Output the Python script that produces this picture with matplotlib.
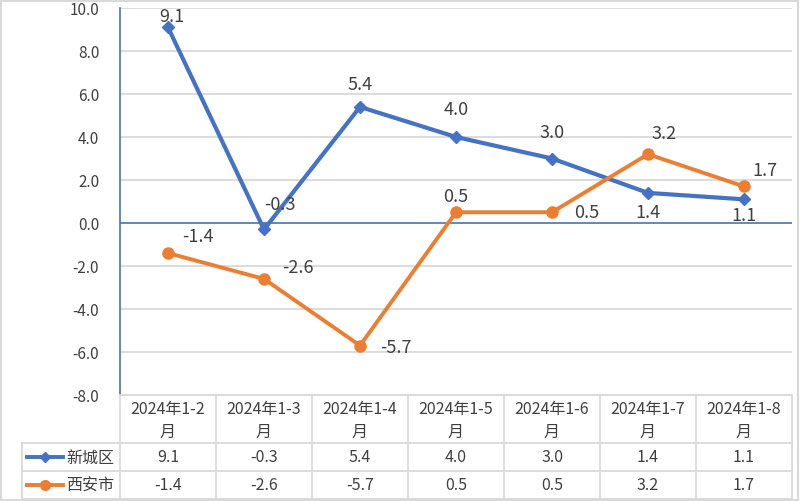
import matplotlib
matplotlib.use("Agg")
import matplotlib.pyplot as plt
from matplotlib.lines import Line2D
from matplotlib.patches import Rectangle

plt.rcParams['font.family'] = ['Noto Sans CJK SC', 'DejaVu Sans']

categories = ["2024年1-2\n月", "2024年1-3\n月", "2024年1-4\n月", "2024年1-5\n月",
              "2024年1-6\n月", "2024年1-7\n月", "2024年1-8\n月"]
series_names = ["新城区", "西安市"]
xincheng = [9.1, -0.3, 5.4, 4.0, 3.0, 1.4, 1.1]
xian = [-1.4, -2.6, -5.7, 0.5, 0.5, 3.2, 1.7]
yticks = [-8, -6, -4, -2, 0, 2, 4, 6, 8, 10]

BLUE = "#4472C4"
ORANGE = "#ED7D31"
TXT = "#404040"
GRID = "#D9D9D9"

W, H = 800, 502
fig = plt.figure(figsize=(8, 5.02), dpi=100)

def fx(px):
    return px / W

def fy(py):
    return 1 - py / H

left, right, top, bottom = 120, 792, 9, 396
ax = fig.add_axes([fx(left), fy(bottom), fx(right - left), (bottom - top) / H])
n = len(categories)
x = list(range(n))
ax.set_xlim(-0.5, n - 0.5)
ax.set_ylim(-8, 10)
for s in ["top", "right", "bottom"]:
    ax.spines[s].set_visible(False)
ax.spines["left"].set_color(BLUE)
ax.spines["left"].set_linewidth(1.2)
ax.set_yticks(yticks)
ax.set_yticklabels([f"{v:.1f}" for v in yticks], fontsize=11, color=TXT)
ax.tick_params(axis='y', length=0, pad=15)
ax.set_xticks([])
for v in yticks:
    if v == 0:
        ax.axhline(0, color=BLUE, lw=1.2, zorder=1)
    elif v != -8:
        ax.axhline(v, color=GRID, lw=1.3, zorder=0)

ax.plot(x, xincheng, color=BLUE, lw=3.0, marker="D", markersize=6, zorder=3, clip_on=False)
ax.plot(x, xian, color=ORANGE, lw=2.8, marker="o", markersize=8, zorder=3, clip_on=False)

blue_off = [(4, 11), (16, 25), (0, 23), (0, 28), (0, 26), (0, -19), (0, -16)]
orange_off = [(30, 17), (34, 12), (36, -1), (0, 16), (35, 0), (16, 21), (21, 16)]
for i, v in enumerate(xincheng):
    ax.annotate(f"{v:.1f}", (x[i], v), xytext=blue_off[i], textcoords="offset pixels",
                ha="center", va="center", fontsize=13, color=TXT, zorder=4, annotation_clip=False)
for i, v in enumerate(xian):
    ax.annotate(f"{v:.1f}", (x[i], v), xytext=orange_off[i], textcoords="offset pixels",
                ha="center", va="center", fontsize=13, color=TXT, zorder=4, annotation_clip=False)

# data table
lw_t = 1.3
def hline(y, x0, x1):
    fig.add_artist(Line2D([fx(x0), fx(x1)], [fy(y), fy(y)], color=GRID, lw=lw_t))

def vline(xp, y0, y1):
    fig.add_artist(Line2D([fx(xp), fx(xp)], [fy(y0), fy(y1)], color=GRID, lw=lw_t))

row_y = [396, 444, 472, 500]
label_left = 22
hline(row_y[0], left, right)
hline(row_y[1], label_left, right)
hline(row_y[2], label_left, right)
hline(row_y[3], label_left, right)
colw = (right - left) / n
for i in range(n + 1):
    vline(left + i * colw, row_y[0], row_y[3])
vline(label_left, row_y[1], row_y[3])

for i, c in enumerate(categories):
    fig.text(fx(left + (i + 0.5) * colw), fy((row_y[0] + row_y[1]) / 2 + 1), c,
             ha="center", va="center", fontsize=11.5, color=TXT, linespacing=1.5)

rows = [(series_names[0], xincheng, BLUE, "D", 5.5), (series_names[1], xian, ORANGE, "o", 7)]
for r, (name, vals, col, mk, ms) in enumerate(rows):
    yc = (row_y[r + 1] + row_y[r + 2]) / 2
    fig.add_artist(Line2D([fx(27), fx(63)], [fy(yc), fy(yc)], color=col, lw=2.8))
    fig.add_artist(Line2D([fx(45)], [fy(yc)], color=col, marker=mk, markersize=ms, lw=0))
    fig.text(fx(66), fy(yc), name, ha="left", va="center", fontsize=11.5, color=TXT)
    for i, v in enumerate(vals):
        fig.text(fx(left + (i + 0.5) * colw), fy(yc), f"{v:.1f}", ha="center", va="center",
                 fontsize=11.5, color=TXT)

fig.add_artist(Rectangle((0.001, 0.002), 0.997, 0.995, transform=fig.transFigure,
                         fill=False, edgecolor="#D9D9D9", lw=1.5))

fig.savefig("out.png", dpi=100)
